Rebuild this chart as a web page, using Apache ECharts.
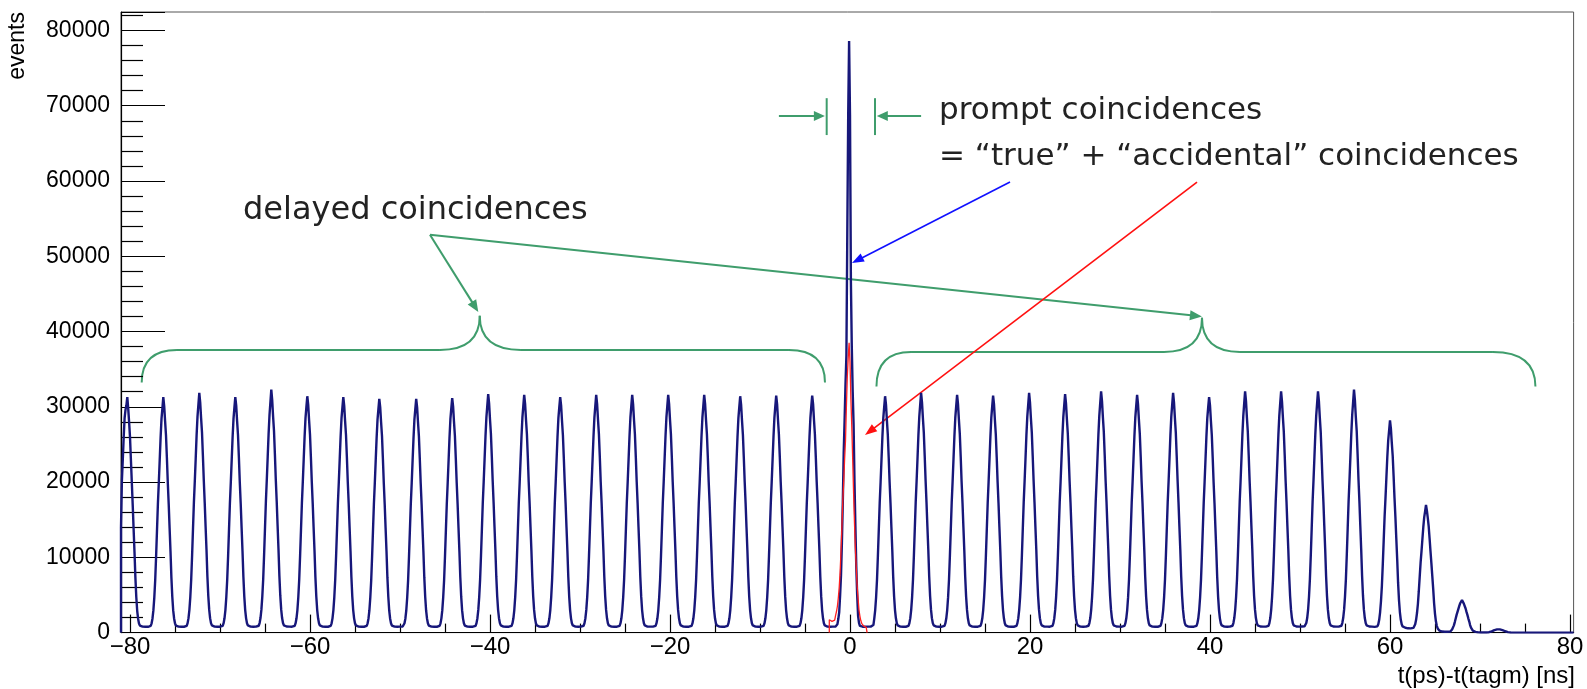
<!DOCTYPE html>
<html><head><meta charset="utf-8">
<script src="https://cdn.jsdelivr.net/npm/echarts@6/dist/echarts.min.js"></script>
<style>html,body{margin:0;padding:0;background:#fff;}#c{width:1587px;height:689px;}</style>
</head><body><div id="c"></div>
<script>
// ---------------- data (histogram bin contents, 0.1 ns bins) ----------------
const binWidth = 0.1;          // ns
const blueStart = -81.0;       // low edge of first bin of the full histogram
const redStart = -2.3;         // low edge of first bin of the "true" histogram

// one line per RF bunch (minimum to minimum), bunches at about -80 ... -4 ns
const countsDelayedLeft = [
14000,20200,23000,26000,28500,29600,30200,31300,29800,28000,26000,23000,20000,17000,13800,10700,7300,4700,2900,1850,1200,930,830,790,770,760,770,790,
790,770,780,810,880,990,1230,1880,2980,4650,6950,10100,13600,17100,19900,22900,25900,28400,29800,31300,30100,28100,26200,23200,19900,17100,13900,10800,7300,4750,2950,1880,1230,940,840,790,770,760,770,790,
800,780,790,820,890,1000,1260,1920,3020,4720,7050,10250,13800,17300,20100,23100,26200,28700,30300,31850,30600,28500,26600,23500,20200,17300,14100,11000,7450,4850,3050,1920,1260,960,850,800,780,760,780,800,
800,780,800,820,900,1000,1250,1900,2990,4700,7000,10150,13650,17150,19950,22950,25950,28400,29900,31300,30200,28100,26250,23250,19950,17150,13950,10850,7380,4780,2990,1890,1240,950,850,800,780,760,780,800,
810,790,810,830,910,1010,1270,1930,3050,4780,7100,10350,13900,17450,20300,23350,26400,28900,30600,32300,30900,28700,26800,23700,20300,17450,14200,11050,7500,4870,3050,1930,1270,960,860,810,790,770,790,810,
800,780,800,820,900,1000,1250,1900,3000,4700,7000,10200,13700,17200,20000,23000,26000,28500,30000,31400,30300,28200,26300,23300,20000,17200,14000,10900,7400,4800,3000,1900,1250,950,850,800,780,760,780,800,
800,780,790,810,890,990,1240,1890,2990,4690,6980,10180,13680,17180,19980,22980,25980,28450,29900,31300,30150,28100,26250,23250,19950,17150,13950,10850,7380,4780,2990,1890,1240,950,850,800,780,760,780,800,
800,780,790,810,890,990,1240,1880,2970,4660,6940,10120,13600,17080,19850,22850,25800,28250,29700,31050,29950,27950,26100,23100,19850,17050,13880,10800,7330,4760,2970,1880,1240,940,840,790,770,760,770,790,
790,800,780,790,810,890,990,1240,1880,2970,4660,6940,10120,13600,17080,19850,22850,25800,28250,29700,31050,29950,27950,26100,23100,19850,17050,13880,10800,7330,4760,2970,1880,1240,940,840,790,770,760,770,790,
800,780,790,810,890,990,1240,1890,2980,4680,6960,10150,13650,17120,19900,22900,25880,28350,29800,31150,30050,28000,26150,23150,19900,17100,13920,10830,7360,4770,2980,1890,1240,940,840,790,770,760,770,790,
800,780,800,820,900,1000,1260,1910,3010,4720,7040,10240,13760,17280,20080,23080,26100,28600,30150,31700,30450,28350,26450,23450,20100,17280,14070,10950,7430,4830,3020,1910,1260,960,850,800,780,760,780,800,
800,780,800,820,900,1000,1250,1900,3000,4710,7020,10220,13730,17250,20050,23050,26050,28550,30100,31600,30400,28300,26400,23400,20050,17250,14050,10930,7420,4820,3010,1900,1250,950,850,800,780,760,780,800,
800,780,800,820,900,1000,1250,1900,3000,4700,7000,10200,13700,17200,20000,23000,26000,28500,29950,31300,30200,28150,26250,23250,19980,17180,13980,10880,7390,4790,2990,1890,1250,950,850,800,780,760,780,800,
810,790,800,830,910,1010,1260,1910,3010,4710,7030,10230,13740,17260,20060,23060,26060,28560,30100,31600,30400,28300,26400,23400,20050,17250,14050,10930,7420,4820,3010,1900,1250,950,850,800,780,760,780,800,
800,780,800,820,900,1000,1250,1900,3000,4710,7020,10220,13730,17250,20050,23050,26050,28550,30100,31600,30350,28280,26380,23380,20040,17240,14040,10920,7410,4810,3000,1900,1250,950,850,800,780,770,790,810,
810,790,800,820,900,1000,1250,1900,3000,4710,7020,10220,13730,17250,20050,23050,26050,28550,30100,31600,30400,28300,26400,23400,20050,17250,14050,10930,7420,4820,3010,1900,1250,950,850,800,780,760,780,800,
800,780,800,820,900,1000,1250,1900,3000,4710,7020,10220,13730,17250,20050,23050,26050,28550,30100,31600,30400,28300,26400,23400,20050,17250,14050,10930,7420,4820,3010,1900,1250,950,850,800,780,760,780,800,
800,780,800,820,900,1000,1250,1900,3000,4700,7000,10200,13700,17200,20000,23000,26000,28500,30000,31400,30300,28200,26300,23300,20000,17200,14000,10900,7400,4800,3000,1900,1250,950,850,800,780,760,780,800,
800,780,800,820,900,1000,1250,1900,3000,4700,7010,10210,13710,17220,20020,23020,26020,28520,30050,31500,30350,28250,26350,23350,20020,17220,14020,10910,7410,4810,3000,1900,1250,950,850,800,780,760,780,800,
800,780,800,820,900,1000,1250,1900,3000,4700,7010,10210,13710,17220,20020,23020,26020,28520,30050,31500,30350,28250,26350,23350,20020,17220,14020,10910,7410,4810,3000,1900,1250,950,850,800,780,760,780,800
];
// prompt bunch around 0 ns (total = true + accidental)
const countsPrompt = [
790,800,780,800,820,850,900,1100,1800,2700,4900,7600,11900,17300,23900,28200,33000,36800,53100,68800,78600,68800,46600,37900,32000,27600,20000,14100,8700,4900,2200,1300,900,800,780,760,760,780,760,780,800
];
// bunches at about +4 ... +72 ns
const countsDelayedRight = [
800,780,800,820,900,1000,1250,1900,3000,4700,7000,10200,13700,17200,20000,23000,26000,28500,30000,31400,30300,28200,26300,23300,20000,17200,14000,10900,7400,4800,3000,1900,1250,950,850,800,780,760,780,800,
800,780,790,820,890,1000,1260,1920,3020,4720,7050,10250,13800,17300,20100,23100,26200,28700,30300,31850,30600,28500,26600,23500,20200,17300,14100,11000,7450,4850,3050,1920,1260,960,850,800,780,760,780,800,
800,780,800,820,900,1000,1250,1900,3000,4710,7020,10220,13730,17250,20050,23050,26050,28550,30100,31600,30400,28300,26400,23400,20050,17250,14050,10930,7420,4820,3010,1900,1250,950,850,800,780,760,780,800,
800,780,800,820,900,1000,1250,1900,3000,4700,7010,10210,13710,17220,20020,23020,26020,28520,30050,31500,30350,28250,26350,23350,20020,17220,14020,10910,7410,4810,3000,1900,1250,950,850,800,780,760,780,800,
800,780,800,820,890,1000,1260,1920,3020,4720,7050,10250,13800,17300,20100,23100,26200,28700,30300,31850,30600,28500,26600,23500,20200,17300,14100,11000,7450,4850,3050,1920,1260,960,850,800,790,770,790,810,
800,780,800,820,900,1000,1260,1910,3010,4720,7040,10240,13760,17280,20080,23080,26100,28600,30150,31700,30450,28350,26450,23450,20100,17280,14070,10950,7430,4830,3020,1910,1260,960,850,800,780,760,780,800,
810,790,810,830,910,1010,1270,1930,3040,4760,7080,10300,13850,17380,20200,23230,26300,28800,30450,32050,30750,28600,26700,23600,20250,17380,14150,11030,7480,4860,3050,1930,1270,960,860,810,790,770,790,810,
800,780,800,820,900,1000,1250,1900,3000,4710,7020,10220,13730,17250,20050,23050,26050,28550,30100,31600,30400,28300,26400,23400,20050,17250,14050,10930,7420,4820,3010,1900,1250,950,850,800,780,760,780,800,
800,780,790,820,890,1000,1260,1920,3020,4720,7050,10250,13800,17300,20100,23100,26200,28700,30300,31850,30600,28500,26600,23500,20200,17300,14100,11000,7450,4850,3050,1920,1260,960,850,800,780,760,780,800,
800,780,800,820,900,1000,1250,1900,3000,4700,7000,10200,13700,17200,20000,23000,26000,28500,29950,31300,30200,28150,26250,23250,19980,17180,13980,10880,7390,4790,2990,1890,1250,950,850,800,780,760,780,800,
810,790,810,830,910,1010,1270,1930,3040,4760,7080,10300,13850,17380,20200,23230,26300,28800,30450,32050,30750,28600,26700,23600,20250,17380,14150,11030,7480,4860,3050,1930,1270,960,860,810,790,770,790,810,
810,790,800,830,900,1010,1260,1930,3040,4760,7080,10300,13850,17380,20200,23230,26300,28800,30450,32050,30700,28600,26700,23600,20250,17380,14150,11030,7480,4860,3050,1930,1270,960,860,810,790,770,790,800,
800,810,790,810,830,910,1010,1270,1930,3040,4760,7080,10300,13850,17380,20200,23230,26300,28800,30450,32050,30750,28600,26700,23600,20250,17380,14150,11030,7480,4860,3050,1930,1270,960,860,810,790,770,790,810,
810,790,810,830,910,1010,1270,1930,3050,4780,7100,10350,13900,17450,20300,23350,26400,28900,30600,32300,30900,28700,26800,23700,20300,17450,14200,11050,7500,4870,3050,1930,1270,960,860,810,790,770,790,810,
780,760,760,780,830,900,1100,1700,2700,4200,6250,9100,12250,15400,17900,20600,23300,25500,26850,28200,27100,25200,23500,20800,17900,15400,12500,9750,6600,4300,2700,1700,1100,820,700,640,600,580,570,570,
570,560,560,580,620,680,800,1100,1700,2600,3800,5500,7400,9300,10800,12400,14000,15300,16100,16950,16200,15200,14100,12500,10800,9200,7500,5800,3900,2500,1500,900,550,350,250,180,140,120,120,120,
120,120,120,120,130,150,180,260,420,650,960,1400,1880,2350,2750,3150,3550,3900,4100,4330,4150,3850,3600,3200,2750,2350,1900,1500,1000,650,400,250,150,100,60,40,30,20,20,20,
20,10,10,10,10,10,20,30,50,80,120,170,230,290,340,380,410,430,440,440,430,400,370,330,280,230,180,130,90,60,40,20,10,0,0,0,0,0,0,0
];
// empty bins up to the end of the axis
const countsTail = [
0,0,0,0,0,0,0,0,0,0,0,0,0,0,0,0,0,0,0,0,0,0,0,0,0,0,0,0,0,0,0,0,
0,0,0,0,0,0,0,0,0,0,0,0,0,0,0,0,0,0,0,0,0,0,0,0,0,0,0,0,0,0,0
];
// "true" coincidences (red) around the prompt bunch
const countsTrue = [
1700,1600,1500,1450,1500,1650,1900,2300,2800,3500,4600,6000,8000,10800,14000,17500,20000,23000,25500,30000,34000,36500,38500,36000,31000,27300,23000,18500,14500,11000,8500,6100,4500,3000,2200,1600,1240,1000,900,800,700,650
];

const xMajorTicks = [-80,-60,-40,-20,0,20,40,60,80];
const xMinorTicks = [-75,-70,-65,-55,-50,-45,-35,-30,-25,-15,-10,-5,5,10,15,25,30,35,45,50,55,65,70,75];
const xRange = [-81.0, 80.4];
const yRange = [0, 82450];

// ---------------- helpers ----------------
function stepData(start, counts) {
  const d = [[start, 0]];
  counts.forEach((c, i) => d.push([+(start + i * binWidth).toFixed(3), c]));
  const end = +(start + counts.length * binWidth).toFixed(3);
  d.push([end, counts[counts.length - 1]]);
  d.push([end, 0]);
  return d;
}
const blueCounts = [].concat(countsDelayedLeft, countsPrompt, countsDelayedRight, countsTail);

const NAVY = '#17177a';
const FONT = 'Liberation Sans, Arial, Helvetica, sans-serif';
const chart = echarts.init(document.getElementById('c'), null, {renderer: 'canvas'});

const option = {
  animation: false,
  backgroundColor: '#ffffff',
  grid: {left: 121, top: 12, width: 1452.6, height: 620.6, show: true, borderColor: '#555', borderWidth: 1, outerBoundsMode: 'none'},
  xAxis: [{
    type: 'value', min: xRange[0], max: xRange[1], position: 'bottom',
    axisLine: {show: true, onZero: false, lineStyle: {color: '#000', width: 1.2}},
    axisTick: {show: true, inside: true, length: 18, customValues: xMajorTicks, lineStyle: {color: '#000', width: 1.2}},
    axisLabel: {show: true, customValues: xMajorTicks, margin: 3, fontSize: 24, color: '#000', fontFamily: FONT,
      formatter: v => (v < 0 ? '\u2212' + Math.abs(v) : String(v))},
    splitLine: {show: false}
  }, {
    type: 'value', min: xRange[0], max: xRange[1], position: 'bottom',
    axisLine: {show: false},
    axisTick: {show: true, inside: true, length: 9, customValues: xMinorTicks, lineStyle: {color: '#000', width: 1.2}},
    axisLabel: {show: false},
    splitLine: {show: false}
  }],
  yAxis: {
    type: 'value', min: yRange[0], max: yRange[1], interval: 10000,
    axisLine: {show: true, onZero: false, lineStyle: {color: '#000', width: 1.2}},
    axisTick: {show: true, inside: true, length: 44, lineStyle: {color: '#000', width: 1.2}},
    minorTick: {show: true, splitNumber: 5, length: 22, lineStyle: {color: '#000', width: 1.2}},
    axisLabel: {margin: 11, fontSize: 23, color: '#000', fontFamily: FONT, formatter: v => String(v)},
    splitLine: {show: false}, minorSplitLine: {show: false}
  },
  series: [{
    type: 'line', name: 'all', xAxisIndex: 0, yAxisIndex: 0, step: 'end', showSymbol: false, symbol: 'none',
    data: stepData(blueStart, blueCounts), lineStyle: {color: NAVY, width: 2.4}, clip: true, z: 2
  }, {
    type: 'line', name: 'true', xAxisIndex: 0, yAxisIndex: 0, step: 'end', showSymbol: false, symbol: 'none',
    data: stepData(redStart, countsTrue), lineStyle: {color: '#ff2020', width: 1.3}, clip: true, z: 3
  }]
};
chart.setOption(option);

// ---------------- annotations (placed in data coordinates) ----------------
const GREEN = '#3f9d6c';
const TXT = {fontFamily: '"DejaVu Sans", "Open Sans", sans-serif', fill: '#222'};
const promptMark = {barL: -2.59, barR: 2.78, barLow: 66100, barHigh: 71000, y: 68630, startL: -7.9, startR: 7.9};
const braceL = {x0: -78.7, x1: -74.78, x2: -45.56, xt: -41.14, x3: -36.56, x4: -6.78, x5: -2.78, yLow: 33220, yLine: 37550, yTip: 42090};
const braceR = {x0: 2.94, x1: 6.78, x2: 34.89, xt: 39.11, x3: 43.33, x4: 71.44, x5: 76.16, yLow: 32680, yLine: 37280, yTip: 41820};
const delayedOrigin = [-46.67, 52850];
const delayedTargets = [[-41.3, 42600], [39.1, 42000]];
const blueArrow = [[17.78, 59860], [0.22, 49100]];
const redArrow = [[38.56, 59860], [1.67, 26250]];
const labels = [
  {text: 'prompt coincidences', at: [9.89, 69300], size: 31},
  {text: '= \u201ctrue\u201d + \u201caccidental\u201d coincidences', at: [9.89, 63150], size: 31},
  {text: 'delayed coincidences', at: [-67.44, 56010], size: 32}
];

function px(p) { return chart.convertToPixel({xAxisIndex: 0, yAxisIndex: 0}, p); }
function seg(A, B, color, lw) {
  return {type: 'line', shape: {x1: A[0], y1: A[1], x2: B[0], y2: B[1]}, style: {stroke: color, lineWidth: lw}};
}
function quad(A, C, B, color, lw) {
  return {type: 'bezierCurve', shape: {x1: A[0], y1: A[1], cpx1: C[0], cpy1: C[1], x2: B[0], y2: B[1]}, style: {stroke: color, lineWidth: lw, fill: null}};
}
function arrow(a, b, color, lw, hl, hw) {
  const A = px(a), B = px(b);
  const dx = B[0] - A[0], dy = B[1] - A[1], L = Math.hypot(dx, dy), ux = dx / L, uy = dy / L;
  const bx = B[0] - ux * hl, by = B[1] - uy * hl;
  return [
    seg(A, [bx + ux, by + uy], color, lw),
    {type: 'polygon', shape: {points: [[B[0], B[1]], [bx - uy * hw, by + ux * hw], [bx + uy * hw, by - ux * hw]]}, style: {fill: color}}
  ];
}
function brace(b, color, lw) {
  const P0 = px([b.x0, b.yLow]), P1 = px([b.x1, b.yLine]), P2 = px([b.x2, b.yLine]), T = px([b.xt, b.yTip]);
  const P3 = px([b.x3, b.yLine]), P4 = px([b.x4, b.yLine]), P5 = px([b.x5, b.yLow]);
  return [
    quad(P0, [P0[0], P1[1]], P1, color, lw),
    seg(P1, P2, color, lw),
    quad(P2, [T[0], P2[1]], T, color, lw),
    quad(T, [T[0], P3[1]], P3, color, lw),
    seg(P3, P4, color, lw),
    quad(P4, [P5[0], P4[1]], P5, color, lw)
  ];
}

const g = [];
// prompt window markers
[promptMark.barL, promptMark.barR].forEach(x => {
  g.push(seg(px([x, promptMark.barLow]), px([x, promptMark.barHigh]), GREEN, 2));
});
g.push(...arrow([promptMark.startL, promptMark.y], [promptMark.barL - 0.2, promptMark.y], GREEN, 2, 11, 5));
g.push(...arrow([promptMark.startR, promptMark.y], [promptMark.barR + 0.2, promptMark.y], GREEN, 2, 11, 5));
g.push(...brace(braceL, GREEN, 2), ...brace(braceR, GREEN, 2));
delayedTargets.forEach(t => g.push(...arrow(delayedOrigin, t, GREEN, 2, 12, 5)));
g.push(...arrow(blueArrow[0], blueArrow[1], '#1010ff', 1.6, 12, 4.5));
g.push(...arrow(redArrow[0], redArrow[1], '#ff1010', 1.6, 12, 4.5));
labels.forEach(l => {
  const p = px(l.at);
  g.push({type: 'text', x: p[0], y: p[1], style: Object.assign({text: l.text, align: 'left', verticalAlign: 'middle', fontSize: l.size}, TXT)});
});
// axis titles
g.push({type: 'text', x: 1575, y: 676, style: {text: 't(ps)-t(tagm) [ns]', align: 'right', verticalAlign: 'middle', fontSize: 24, fontFamily: FONT, fill: '#000'}});
g.push({type: 'text', x: 18, y: 12, rotation: Math.PI / 2, style: {text: 'events', align: 'right', verticalAlign: 'middle', fontSize: 23, fontFamily: FONT, fill: '#000'}});
chart.setOption({graphic: g});
</script>
</body></html>
